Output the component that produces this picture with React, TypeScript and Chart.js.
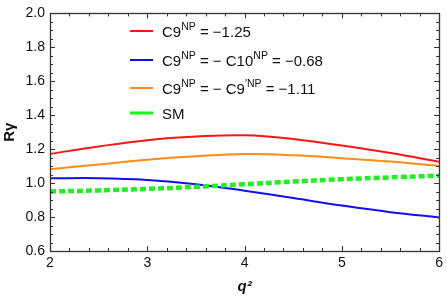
import React, { useEffect, useRef } from "react";
import { Chart, registerables } from "chart.js";

Chart.register(...registerables);

const q2 = [2, 2.5, 3, 3.5, 4, 4.5, 5, 5.5, 6];
const c9Only = [1.172, 1.216, 1.253, 1.274, 1.282, 1.26, 1.221, 1.177, 1.126];
const c9MinusC10 = [1.028, 1.029, 1.019, 0.994, 0.955, 0.912, 0.868, 0.829, 0.798];
const c9MinusC9p = [1.082, 1.11, 1.138, 1.158, 1.171, 1.164, 1.147, 1.127, 1.101];
const smValues = [0.951, 0.957, 0.966, 0.978, 0.993, 1.009, 1.023, 1.034, 1.044];

const seriesLabels = [
  "C9^{NP} = \u22121.25",
  "C9^{NP} = \u2212 C10^{NP} = \u22120.68",
  "C9^{NP} = \u2212 C9^{\u2032NP} = \u22121.11",
  "SM",
];
const seriesColors = ["#ff1414", "#1010f0", "#ff8c1a", "#22ee22"];
const xTitle = "q\u00b2";
const yTitle = "R\u03b3";
const xMin = 2, xMax = 6, yMin = 0.6, yMax = 2.0;

const FONT = "'Liberation Sans', Arial, sans-serif";

function parseRich(s: string) {
  const parts: { t: string; sup: boolean }[] = [];
  const re = /\^\{([^}]*)\}/g;
  let last = 0;
  let m: RegExpExecArray | null;
  while ((m = re.exec(s))) {
    if (m.index > last) parts.push({ t: s.slice(last, m.index), sup: false });
    parts.push({ t: m[1], sup: true });
    last = m.index + m[0].length;
  }
  if (last < s.length) parts.push({ t: s.slice(last), sup: false });
  return parts;
}

const framePlugin = {
  id: "frameTicks",
  afterDatasetsDraw(chart: any) {
    const { ctx, chartArea: a, scales } = chart;
    const xs = scales.x, ys = scales.y;
    ctx.save();
    ctx.strokeStyle = "#333";
    ctx.lineWidth = 1;
    ctx.beginPath();
    for (let i = 0; i <= (xMax - xMin) * 5; i++) {
      const v = xMin + i * 0.2;
      const px = Math.round(xs.getPixelForValue(v)) + 0.5;
      const len = i % 5 === 0 ? 5 : 3;
      ctx.moveTo(px, a.bottom); ctx.lineTo(px, a.bottom - len);
      ctx.moveTo(px, a.top); ctx.lineTo(px, a.top + len);
    }
    const ny = Math.round((yMax - yMin) / 0.05);
    for (let i = 0; i <= ny; i++) {
      const v = yMin + i * 0.05;
      const py = Math.round(ys.getPixelForValue(v)) + 0.5;
      const len = i % 4 === 0 ? 5 : 3;
      ctx.moveTo(a.left, py); ctx.lineTo(a.left + len, py);
      ctx.moveTo(a.right, py); ctx.lineTo(a.right - len, py);
    }
    ctx.stroke();
    ctx.lineWidth = 1.3;
    ctx.strokeRect(Math.round(a.left) + 0.5, Math.round(a.top) + 0.5, Math.round(a.right - a.left), Math.round(a.bottom - a.top));

    const lx0 = 130, lx1 = 153, tx = 162;
    const ysL = [31, 60, 88, 113];
    chart.data.datasets.forEach((ds: any, i: number) => {
      const y = ysL[i];
      ctx.save();
      ctx.strokeStyle = ds.borderColor;
      ctx.lineWidth = i === 3 ? 3 : 2;
      ctx.beginPath();
      ctx.moveTo(lx0, y); ctx.lineTo(lx1, y);
      ctx.stroke();
      ctx.restore();
      let x = tx;
      ctx.fillStyle = "#111";
      ctx.textBaseline = "alphabetic";
      for (const p of parseRich(ds.label)) {
        ctx.font = p.sup ? `10.5px ${FONT}` : `15px ${FONT}`;
        ctx.fillText(p.t, x, p.sup ? y - 1 : y + 5.5);
        x += ctx.measureText(p.t).width;
      }
    });
    ctx.restore();
  },
};

export default function App() {
  const ref = useRef<HTMLCanvasElement>(null);
  useEffect(() => {
    document.body.style.margin = "0";
    const mk = (vals: number[]) => q2.map((x, i) => ({ x, y: vals[i] }));
    const all = [c9Only, c9MinusC10, c9MinusC9p, smValues];
    const chart = new Chart(ref.current as HTMLCanvasElement, {
      type: "line",
      data: {
        datasets: all.map((vals, i) => ({
          label: seriesLabels[i],
          data: mk(vals),
          borderColor: seriesColors[i],
          backgroundColor: seriesColors[i],
          borderWidth: i === 3 ? 4.5 : 2,
          borderDash: i === 3 ? [6, 3] : [],
          pointRadius: 0,
          tension: 0.4,
          fill: false,
          order: i === 3 ? 0 : 1,
        })),
      },
      options: {
        animation: false,
        responsive: false,
        events: [],
        layout: { padding: { left: 0, right: 6, top: 8, bottom: 0 } },
        plugins: { legend: { display: false }, tooltip: { enabled: false } },
        scales: {
          x: {
            type: "linear",
            min: xMin,
            max: xMax,
            grid: { display: false, drawTicks: false },
            border: { display: false },
            ticks: {
              stepSize: 1,
              padding: 4,
              color: "#111",
              font: { family: FONT, size: 14 },
              maxRotation: 0,
            },
            title: {
              display: true,
              text: xTitle,
              color: "#111",
              font: { family: FONT, size: 15, weight: "bold", style: "italic" },
              padding: { top: 0, bottom: 6 },
            },
            afterFit: (s: any) => { s.height = 51; },
          },
          y: {
            type: "linear",
            min: yMin,
            max: yMax,
            grid: { display: false, drawTicks: false },
            border: { display: false },
            ticks: {
              stepSize: 0.2,
              padding: 5,
              color: "#111",
              font: { family: FONT, size: 14 },
              callback: (v: any) => Number(v).toFixed(1),
            },
            title: {
              display: true,
              text: yTitle,
              color: "#111",
              font: { family: FONT, size: 15, weight: "bold" },
              padding: { top: 1, bottom: 0 },
            },
            afterFit: (s: any) => { s.width = 50; },
          },
        },
      },
      plugins: [framePlugin],
    });
    return () => chart.destroy();
  }, []);
  return (
    <div style={{ position: "absolute", left: 0, top: 0, width: 447, height: 302 }}>
      <canvas ref={ref} width={447} height={302} style={{ display: "block" }} />
    </div>
  );
}
